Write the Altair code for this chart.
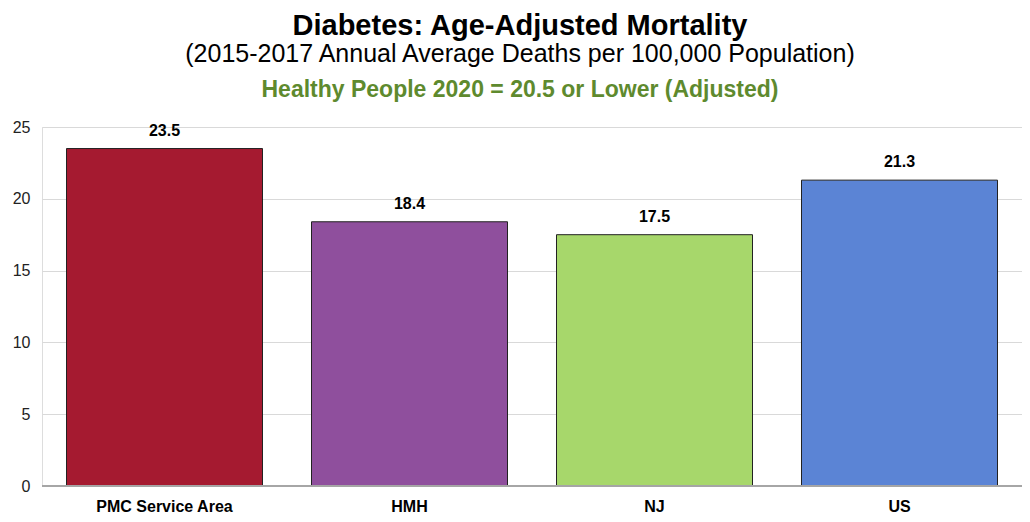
import altair as alt
import pandas as pd

categories = ["PMC Service Area", "HMH", "NJ", "US"]
values = [23.5, 18.4, 17.5, 21.3]
colors = ["#A51A30", "#8F4F9D", "#A7D76B", "#5B84D5"]
title_lines = [
    "Diabetes: Age-Adjusted Mortality",
    "(2015-2017 Annual Average Deaths per 100,000 Population)",
    "Healthy People 2020 = 20.5 or Lower (Adjusted)",
]
y_ticks = [0, 5, 10, 15, 20, 25]

FONT = "Liberation Sans, Arial"

df = pd.DataFrame({"cat": categories, "val": values, "label": [f"{v:.1f}" for v in values]})

x = alt.X("cat:N", sort=categories, title=None,
          scale=alt.Scale(paddingInner=0.2, paddingOuter=0.1),
          axis=alt.Axis(labelAngle=0, labelFont=FONT, labelFontSize=16, labelFontWeight="bold",
                        labelColor="#000000", ticks=False, domain=False, labelPadding=12, grid=False))
y = alt.Y("val:Q", title=None,
          scale=alt.Scale(domain=[0, 25], nice=False),
          axis=alt.Axis(values=y_ticks, labelFont=FONT, labelFontSize=16, labelColor="#222222",
                        ticks=False, domain=False, gridColor="#d9d9d9", labelPadding=12))

bars = alt.Chart(df).mark_bar(stroke="#222222", strokeWidth=1).encode(
    x=x, y=y,
    color=alt.Color("cat:N", scale=alt.Scale(domain=categories, range=colors), legend=None),
)

zero = alt.Chart(df).mark_rule(color="#a6a6a6", strokeWidth=1.5).encode(
    y=alt.datum(0), x=alt.value(0), x2=alt.value(980)
)

labels = alt.Chart(df).mark_text(font=FONT, fontSize=16, fontWeight="bold", dy=-10,
                                 baseline="bottom", color="#000000").encode(
    x=alt.X("cat:N", sort=categories), y="val:Q", text="label:N"
)

tdf = pd.DataFrame({"t": [title_lines[0]]})
t1 = alt.Chart(tdf).mark_text(font=FONT, fontSize=29, fontWeight="bold", color="#000000",
                              align="center", baseline="alphabetic").encode(
    x=alt.value(478), y=alt.value(-92), text="t:N")
sdf = pd.DataFrame({"t": [title_lines[1]]})
t2 = alt.Chart(sdf).mark_text(font=FONT, fontSize=25, color="#000000",
                              align="center", baseline="alphabetic").encode(
    x=alt.value(478), y=alt.value(-65), text="t:N")
gdf = pd.DataFrame({"t": [title_lines[2]]})
t3 = alt.Chart(gdf).mark_text(font=FONT, fontSize=23, fontWeight="bold", color="#5E8A2E",
                              align="center", baseline="alphabetic").encode(
    x=alt.value(478), y=alt.value(-30), text="t:N")

chart = alt.layer(bars, zero, labels, t1, t2, t3).properties(
    width=980, height=359,
    autosize=alt.AutoSizeParams(type="none"),
    padding={"left": 34, "top": 119, "right": 0, "bottom": 28},
).configure_view(stroke=None).configure(background="#ffffff")

chart.save("out.html", embed_options={"renderer": "svg", "actions": False})
